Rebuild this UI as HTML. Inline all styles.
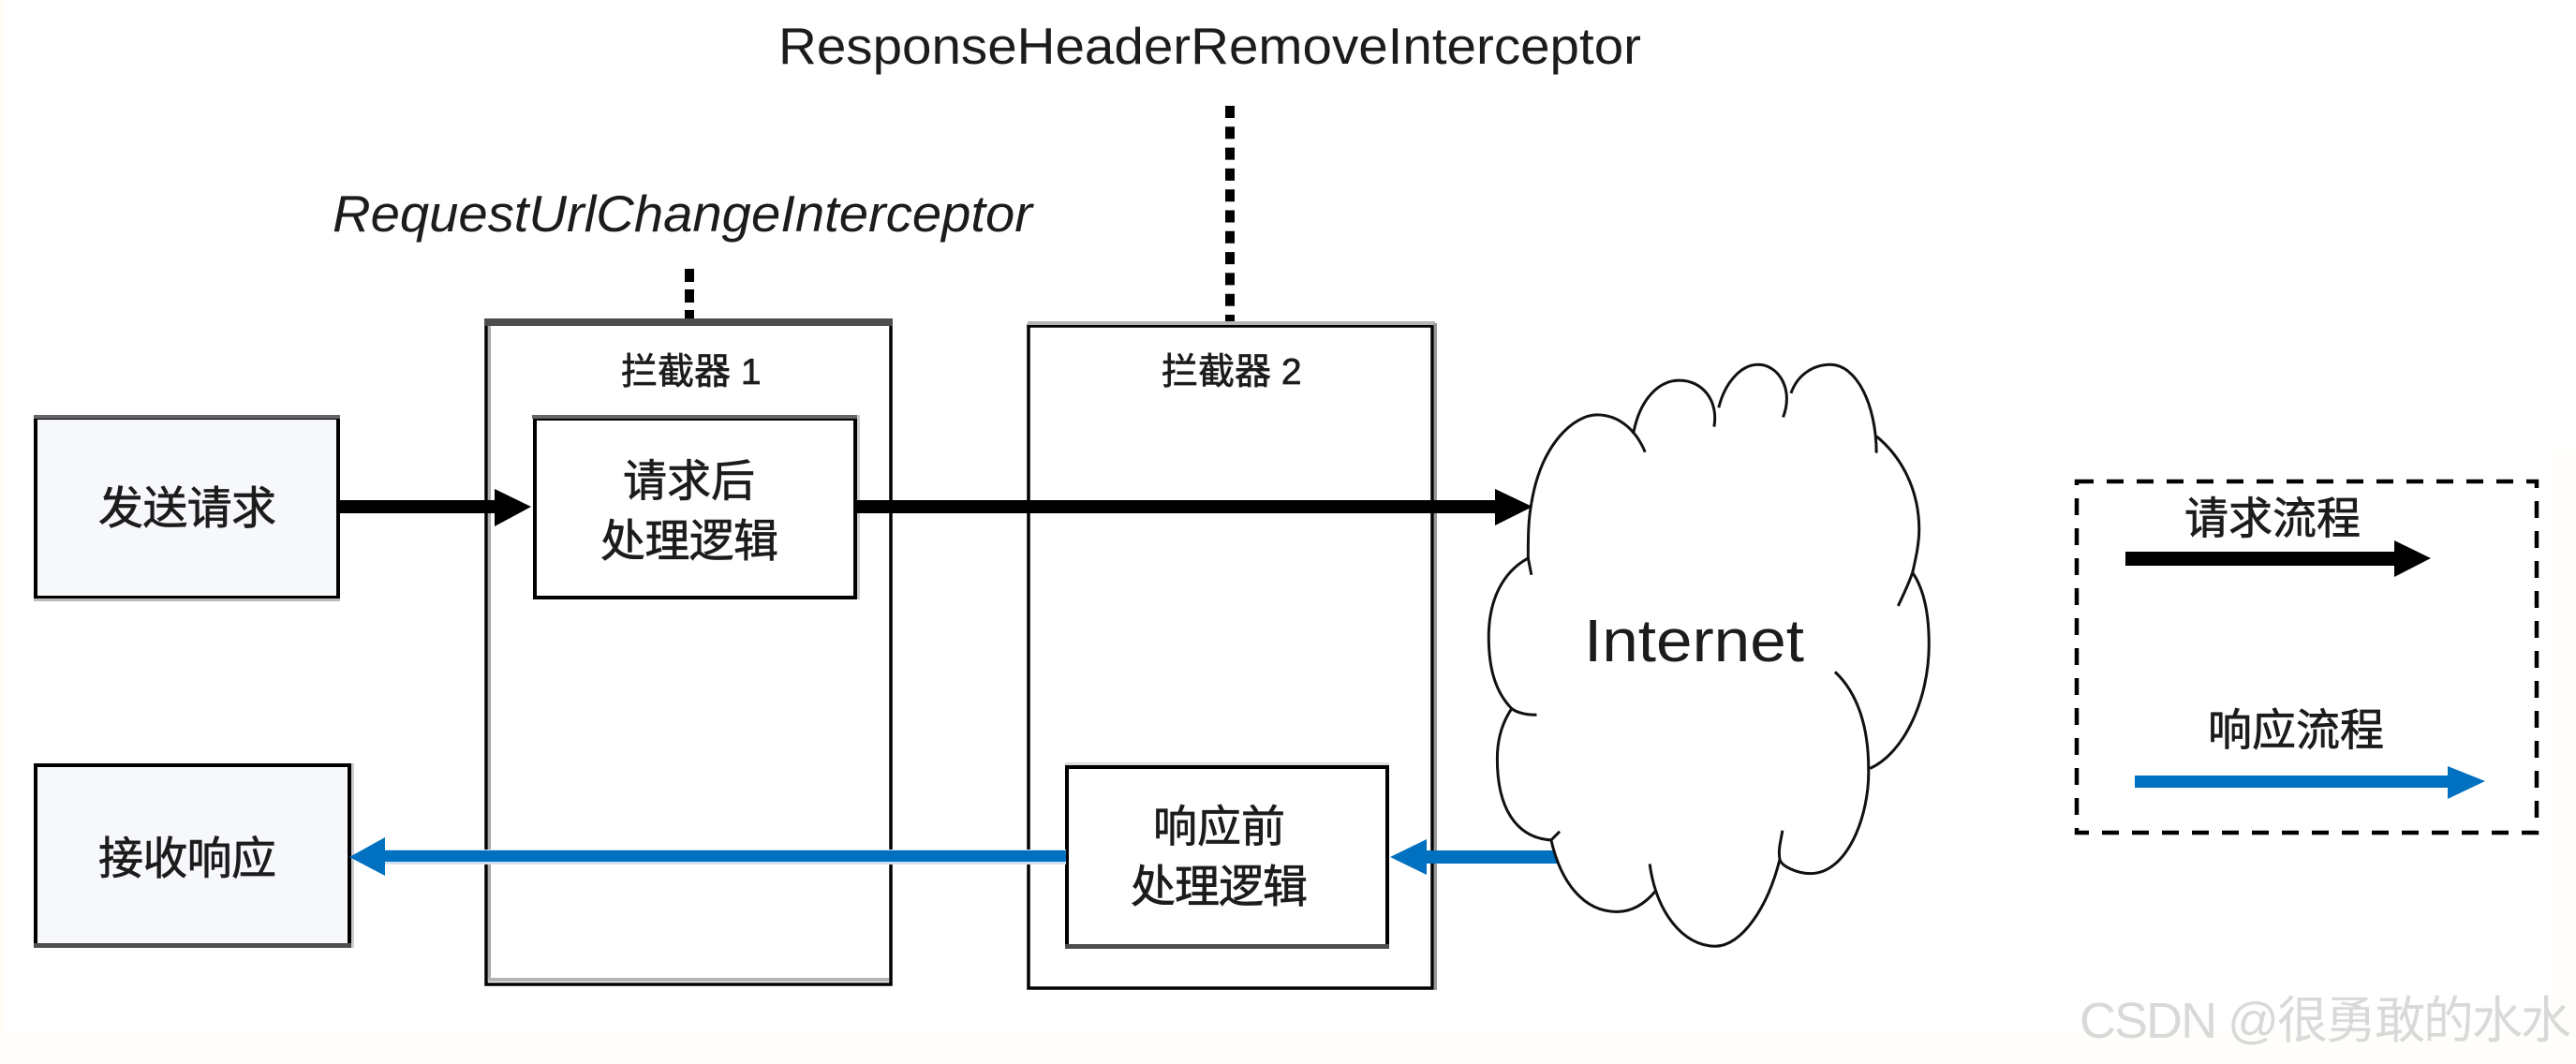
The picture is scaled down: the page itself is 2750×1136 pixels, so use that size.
<!DOCTYPE html>
<html lang="zh">
<head>
<meta charset="utf-8">
<title>Interceptor diagram</title>
<style>
html,body{margin:0;padding:0;background:#fff;width:2750px;height:1136px;overflow:hidden}
svg{display:block}
text{font-family:"Liberation Sans","Noto Sans CJK SC",sans-serif;fill:#1c1c1c}
text.c{stroke:#1c1c1c;stroke-width:.7px}
</style>
</head>
<body>
<svg xmlns="http://www.w3.org/2000/svg" width="2750" height="1136" viewBox="0 0 2750 1136">
  <rect width="2750" height="1136" fill="#ffffff"/>
  <rect x="0" y="0" width="5" height="1136" fill="#fffcf4"/>
  <rect x="2724" y="480" width="26" height="656" fill="#fffdf9"/>
  <rect x="0" y="1100" width="2750" height="36" fill="#fffefb"/>

  <!-- top labels -->
  <text x="831" y="68" font-size="55" textLength="921" lengthAdjust="spacingAndGlyphs">ResponseHeaderRemoveInterceptor</text>
  <text x="355" y="247" font-size="55" font-style="italic" textLength="747" lengthAdjust="spacingAndGlyphs">RequestUrlChangeInterceptor</text>

  <!-- dotted connectors -->
  <line x1="736" y1="287" x2="736" y2="343" stroke="#000" stroke-width="10" stroke-dasharray="14 8"/>
  <line x1="1313" y1="113" x2="1313" y2="348" stroke="#000" stroke-width="10" stroke-dasharray="13 9.3"/>

  <!-- left boxes -->
  <rect x="38" y="446" width="323" height="192" fill="#f6f8fb" stroke="#000" stroke-width="4"/>
  <rect x="36" y="443" width="327" height="4" fill="#666"/>
  <rect x="36" y="639" width="327" height="3" fill="#bbb"/>
  <rect x="38" y="817" width="335" height="192" fill="#f6f8fb" stroke="#000" stroke-width="4"/>
  <rect x="36" y="1007" width="339" height="5" fill="#4d4d4d"/>
  <rect x="375" y="815" width="3" height="197" fill="#ccc"/>

  <!-- interceptor 1 -->
  <rect x="519" y="346" width="432" height="705" fill="#fff" stroke="#000" stroke-width="3.5"/>
  <rect x="517" y="340" width="436" height="8" fill="#4d4d4d"/>
  <rect x="521" y="348" width="3" height="698" fill="#aaa"/>
  <rect x="521" y="1044" width="428" height="4" fill="#b5b5b5"/>

  <!-- interceptor 2 -->
  <rect x="1098" y="348" width="431" height="707" fill="#fff" stroke="#000" stroke-width="3.5"/>
  <rect x="1097" y="343" width="435" height="4" fill="#b5b5b5"/>
  <rect x="1531" y="345" width="3" height="712" fill="#999"/>

  <!-- inner boxes -->
  <rect x="571" y="447" width="342" height="191" fill="#fff" stroke="#000" stroke-width="4"/>
  <rect x="568" y="443" width="348" height="4" fill="#666"/>
  <rect x="915" y="443" width="3" height="197" fill="#ccc"/>
  <rect x="1139" y="819" width="342" height="191" fill="#fff" stroke="#000" stroke-width="4"/>
  <rect x="1137" y="1008" width="346" height="5" fill="#4d4d4d"/>
  <rect x="1137" y="814" width="346" height="3" fill="#ddd"/>

  <!-- black request arrows -->
  <rect x="361" y="534" width="170" height="14" fill="#000"/>
  <rect x="914" y="534" width="685" height="14" fill="#000"/>
  <polygon points="528,522 567,541 528,562" fill="#000"/>

  <!-- blue response arrows -->
  <rect x="408" y="907" width="730" height="16" fill="#cfe2f3"/>
  <rect x="408" y="908" width="730" height="12" fill="#0070c0"/>
  <polygon points="373,915 411,894 411,935" fill="#0070c0"/>
  <rect x="1520" y="908" width="145" height="14" fill="#0070c0"/>
  <polygon points="1484,915 1523,896 1523,934" fill="#0070c0"/>

  <!-- cloud -->
  <g transform="translate(1000,300) scale(.7015,.5102)">
    <path fill="#fff" stroke="none" d="M905,465 C920,340 970,280 1005,280 C1030,280 1050,295 1060,320 C1070,245 1100,208 1130,208 C1160,208 1180,235 1190,265 C1200,210 1225,175 1250,175 C1275,175 1290,200 1300,235 C1310,195 1335,175 1360,175 C1400,175 1425,250 1430,325 C1470,370 1495,440 1495,520 L1485,610 C1505,650 1510,710 1510,760 C1510,880 1470,990 1420,1020 C1420,1120 1385,1240 1330,1240 C1310,1240 1290,1230 1283,1210 C1265,1310 1225,1392 1185,1392 C1145,1392 1110,1340 1095,1275 C1080,1300 1060,1320 1035,1320 C985,1320 950,1260 935,1170 C880,1165 853,1100 853,1000 C853,960 860,925 875,895 C850,860 840,810 840,745 C840,670 860,610 900,580 C900,540 900,500 905,465 Z"/>
    <g fill="none" stroke="#111" stroke-width="3">
      <path vector-effect="non-scaling-stroke" d="M905,465 C920,340 970,280 1005,280 C1040,280 1065,315 1078,358"/>
      <path vector-effect="non-scaling-stroke" d="M1060,320 C1070,245 1100,208 1130,208 C1165,208 1190,250 1183,305"/>
      <path vector-effect="non-scaling-stroke" d="M1190,265 C1200,210 1225,175 1250,175 C1280,175 1305,225 1288,285"/>
      <path vector-effect="non-scaling-stroke" d="M1300,235 C1310,195 1335,175 1360,175 C1400,175 1430,260 1430,360"/>
      <path vector-effect="non-scaling-stroke" d="M1430,325 C1470,370 1495,440 1495,520 C1495,550 1490,580 1485,610"/>
      <path vector-effect="non-scaling-stroke" d="M1463,680 C1470,660 1480,630 1485,610 C1505,650 1510,710 1510,760 C1510,880 1470,990 1420,1020"/>
      <path vector-effect="non-scaling-stroke" d="M1367,818 C1400,860 1418,930 1418,1020 C1420,1120 1385,1240 1330,1240 C1310,1240 1285,1225 1283,1210 C1280,1190 1285,1170 1287,1150"/>
      <path vector-effect="non-scaling-stroke" d="M1283,1210 C1265,1310 1225,1392 1185,1392 C1135,1392 1095,1320 1085,1220"/>
      <path vector-effect="non-scaling-stroke" d="M1095,1275 C1080,1300 1060,1320 1035,1320 C985,1320 950,1260 935,1170 L948,1152"/>
      <path vector-effect="non-scaling-stroke" d="M935,1170 C880,1165 853,1100 853,1000 C853,960 860,925 875,895 C885,905 900,908 913,908"/>
      <path vector-effect="non-scaling-stroke" d="M875,895 C850,860 840,810 840,745 C840,670 860,610 900,580 L905,615"/>
      <path vector-effect="non-scaling-stroke" d="M900,580 C900,540 900,500 905,465"/>
    </g>
  </g>
  <polygon points="1596,522 1636,541 1596,561" fill="#000"/>
  <text x="1691" y="706" font-size="64" textLength="235" lengthAdjust="spacingAndGlyphs">Internet</text>

  <!-- box labels -->
  <text class="c" x="105" y="559" font-size="48" textLength="190">发送请求</text>
  <text class="c" x="105" y="933" font-size="48" textLength="190">接收响应</text>
  <text class="c" x="663" y="410" font-size="39">拦截器 1</text>
  <text class="c" x="1240" y="410" font-size="39">拦截器 2</text>
  <text class="c" x="665" y="530" font-size="47">请求后</text>
  <text class="c" x="641" y="594" font-size="48" textLength="190">处理逻辑</text>
  <text class="c" x="1231" y="899" font-size="47">响应前</text>
  <text class="c" x="1207" y="963" font-size="48" textLength="189">处理逻辑</text>

  <!-- legend -->
  <rect x="2217" y="514" width="491" height="375" fill="none" stroke="#000" stroke-width="4.5" stroke-dasharray="18 14"/>
  <text class="c" x="2332" y="570" font-size="47">请求流程</text>
  <rect x="2269" y="589" width="290" height="15" fill="#000"/>
  <polygon points="2556,577 2595,596 2556,616" fill="#000"/>
  <text class="c" x="2357" y="796" font-size="47">响应流程</text>
  <rect x="2279" y="828" width="336" height="13" fill="#0070c0"/>
  <polygon points="2613,818 2653,834 2613,853" fill="#0070c0"/>

  <!-- watermark -->
  <text x="2220" y="1108" font-size="54" style="fill:#d9d9d9" textLength="525">CSDN @很勇敢的水水</text>
</svg>
</body>
</html>
